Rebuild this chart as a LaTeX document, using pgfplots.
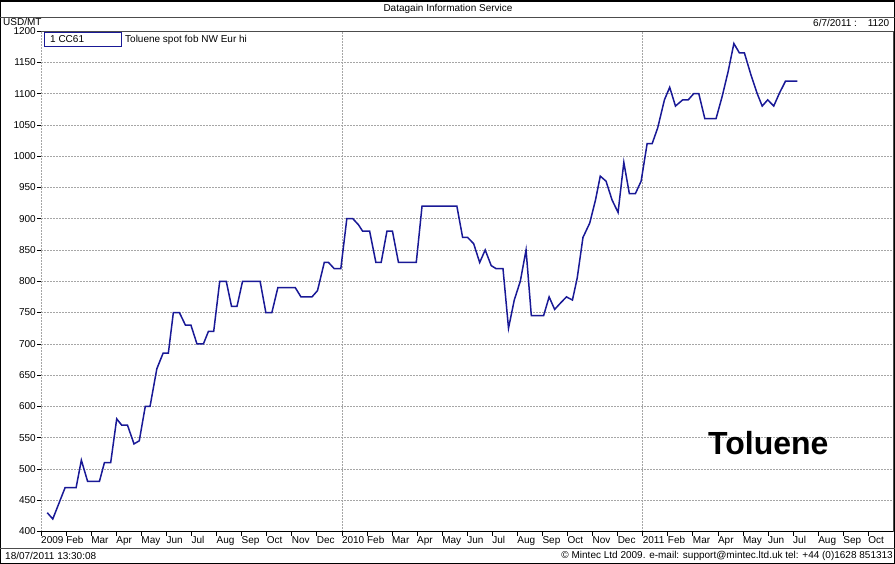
\documentclass[border=0pt]{standalone}
\usepackage{pgfplots}
\pgfplotsset{compat=1.18}
\usepackage{fontspec}
\setmainfont{Liberation Sans}
\definecolor{linecol}{RGB}{25,25,150}
\begin{document}
\fontsize{10bp}{12bp}\selectfont
\begin{tikzpicture}
\useasboundingbox (0,0) rectangle (895bp,564bp);
\begin{axis}[
 at={(41bp,32.5bp)}, anchor=south west,
 scale only axis, width=852.3bp, height=500.5bp,
 xmin=0, xmax=34, ymin=400, ymax=1200,
 axis line style={draw=none},
 xtick={0,...,33},
 xticklabels={2009,Feb,Mar,Apr,May,Jun,Jul,Aug,Sep,Oct,Nov,Dec,2010,Feb,Mar,Apr,May,Jun,Jul,Aug,Sep,Oct,Nov,Dec,2011,Feb,Mar,Apr,May,Jun,Jul,Aug,Sep,Oct},
 ytick={400,450,...,1200},
 tick align=outside, major tick length=4bp,
 xtick pos=bottom, ytick pos=left,
 tick style={black, line width=0.6bp},
 ymajorgrids,
 grid style={gray!70, dash pattern=on 1.5bp off 1.5bp, line width=0.6bp},
 xticklabel style={anchor=north west, xshift=-1bp, inner sep=1bp},
 yticklabel style={anchor=east, inner sep=1bp},
 /pgf/number format/assume math mode=true,
 /pgf/number format/1000 sep={},
 clip=false,
]
\draw[gray!70, dash pattern=on 1.5bp off 1.5bp, line width=0.6bp] (axis cs:0,400) -- (axis cs:0,1200);
\draw[gray!70, dash pattern=on 1.5bp off 1.5bp, line width=0.6bp] (axis cs:12,400) -- (axis cs:12,1200);
\draw[gray!70, dash pattern=on 1.5bp off 1.5bp, line width=0.6bp] (axis cs:24,400) -- (axis cs:24,1200);
\draw[black, line width=0.8bp] (rel axis cs:0,0) -- (rel axis cs:1,0);
\draw[gray!60!black, line width=0.8bp] (rel axis cs:0,1) -- (rel axis cs:1,1) -- (rel axis cs:1,0);
\addplot[linecol, line width=1.5bp] coordinates {
(0.25,430) (0.47,420) (0.96,470) (1.40,470) (1.61,514) (1.86,480) (2.33,480)
(2.53,510) (2.78,510) (3.02,580) (3.22,570) (3.45,570) (3.71,540) (3.92,545)
(4.16,600) (4.35,600) (4.62,660) (4.87,685) (5.08,685) (5.28,750) (5.52,750)
(5.76,730) (5.98,730) (6.22,700) (6.48,700) (6.68,720) (6.89,720) (7.13,800)
(7.39,800) (7.60,760) (7.82,760) (8.04,800) (8.74,800) (8.97,750) (9.21,750)
(9.45,790) (10.14,790) (10.37,775) (10.81,775) (11.03,785) (11.30,830) (11.47,830)
(11.70,820) (11.96,820) (12.20,900) (12.44,900) (12.67,890) (12.83,880) (13.11,880)
(13.36,830) (13.57,830) (13.80,880) (14.02,880) (14.26,830) (14.97,830) (15.20,920)
(16.59,920) (16.82,870) (17.02,870) (17.26,860) (17.50,830) (17.72,850) (17.96,825)
(18.16,820) (18.43,820) (18.65,725) (18.88,770) (19.12,800) (19.35,850) (19.56,745)
(20.05,745) (20.27,775) (20.49,755) (20.72,765) (20.96,775) (21.20,770) (21.39,805)
(21.62,870) (21.89,893) (22.12,930) (22.31,968) (22.54,960) (22.78,930) (23.02,910)
(23.25,990) (23.47,940) (23.71,940) (23.94,960) (24.18,1020) (24.38,1020) (24.60,1045)
(24.87,1090) (25.08,1110) (25.31,1080) (25.60,1090) (25.82,1090) (26.04,1100) (26.24,1100)
(26.48,1060) (26.93,1060) (27.17,1095) (27.41,1135) (27.64,1180) (27.86,1165) (28.06,1165)
(28.32,1130) (28.57,1100) (28.77,1080) (28.99,1090) (29.23,1080) (29.45,1100) (29.70,1120)
(30.17,1120)
};
\end{axis}
\begin{scope}[x=1bp,y=1bp]
% frame
\draw[black, line width=1bp] (0.5,0.5) rectangle (894.5,563.5);
\draw[black, line width=2bp] (0,563) -- (895,563);
\draw[gray!60!black, line width=0.8bp] (0,547) -- (895,547);
\draw[gray!60!black, line width=0.8bp] (0,15.7) -- (895,15.7);
% texts
\node[anchor=center, inner sep=0] at (448,555) {Datagain Information Service};
\node[anchor=west, inner sep=0] at (3,542) {USD/MT};
\node[anchor=west, inner sep=0] at (813,541) {6/7/2011 :};
\node[anchor=east, inner sep=0] at (889.5,541) {1120};
\node[anchor=west, inner sep=0] at (5,8.5) {18/07/2011 13:30:08};
\node[anchor=east, inner sep=0] at (893,8.5) {\textcopyright{} Mintec Ltd 2009. e-mail: support@mintec.ltd.uk tel: +44 (0)1628 851313};
% legend
\draw[linecol, line width=1bp] (44.3,517.3) rectangle (121.7,531.7);
\node[anchor=west, inner sep=0] at (50,524.5) {1 CC61};
\node[anchor=west, inner sep=0] at (125,524.5) {Toluene spot fob NW Eur hi};
% big label
\node[anchor=base west, inner sep=0, font=\fontsize{32bp}{36bp}\selectfont\bfseries] at (708,109.7) {Toluene};
\end{scope}
\end{tikzpicture}
\end{document}
